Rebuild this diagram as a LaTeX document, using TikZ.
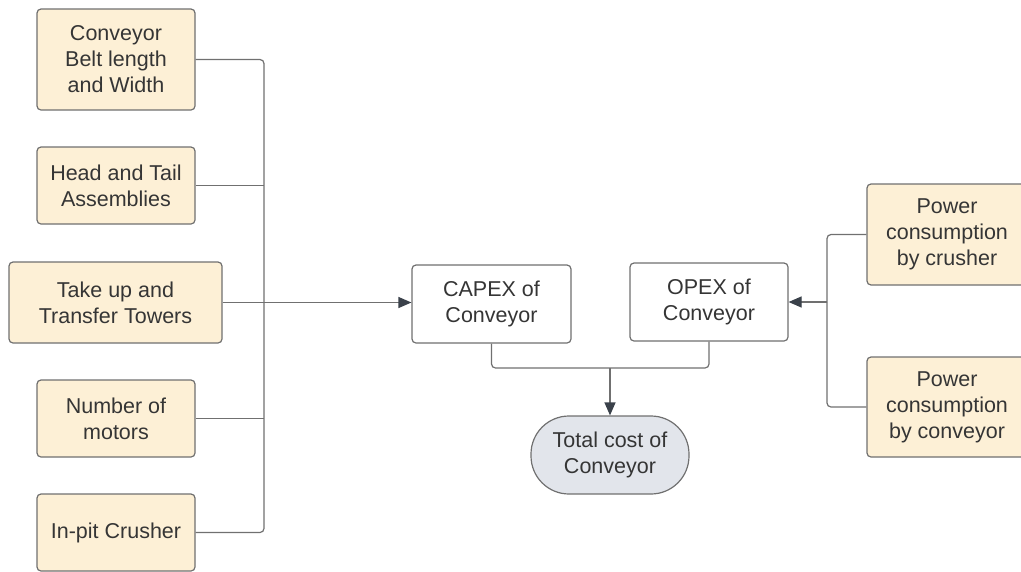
\documentclass[tikz,border=0pt]{standalone}
\usepackage{fontspec}
\setmainfont{Liberation Sans}
\usetikzlibrary{arrows.meta}
\definecolor{cream}{HTML}{FDF0D6}
\definecolor{edge}{HTML}{707070}
\definecolor{txt}{HTML}{353535}
\definecolor{pill}{HTML}{E2E5EB}
\definecolor{arr}{HTML}{3A414A}
\tikzset{
  inbox/.style={draw=edge, fill=cream, line width=1.2pt, rounded corners=4pt, inner sep=0pt,
    align=center, text=txt, font=\fontsize{21.5}{26}\selectfont},
  wbox/.style={inbox, fill=white},
  pillbox/.style={inbox, fill=pill, rounded corners=38pt},
  link/.style={draw=edge, line width=1.2pt, rounded corners=4pt},
  arrlink/.style={link, arrows={-{Triangle[length=13pt,width=11pt,color=arr]}}}
}
\begin{document}
\begin{tikzpicture}[x=1pt,y=-1pt]
\path[use as bounding box] (0,0) rectangle (1021,571);
\clip (0,0) rectangle (1021,571);
\node[inbox, minimum width=158pt, minimum height=101pt] (b1) at (116,59.5) {Conveyor\\Belt length\\and Width};
\node[inbox, minimum width=158pt, minimum height=77pt] (b2) at (116,185.5) {Head and Tail\\Assemblies};
\node[inbox, minimum width=213pt, minimum height=81pt] (b3) at (115.5,302.5) {Take up and\\Transfer Towers};
\node[inbox, minimum width=158pt, minimum height=77pt] (b4) at (116,418.5) {Number of\\motors};
\node[inbox, minimum width=158pt, minimum height=77pt] (b5) at (116,532.5) {In-pit Crusher};
\node[wbox, minimum width=159pt, minimum height=78pt] (capex) at (491.5,304) {CAPEX of\\Conveyor};
\node[wbox, minimum width=158pt, minimum height=78pt] (opex) at (709,302) {OPEX of\\Conveyor};
\node[pillbox, minimum width=158pt, minimum height=78pt] (total) at (610,455) {Total cost of\\Conveyor};
\node[inbox, minimum width=160pt, minimum height=101pt] (p1) at (947,234.5) {Power\\consumption\\by crusher};
\node[inbox, minimum width=160pt, minimum height=100pt] (p2) at (947,407) {Power\\consumption\\by conveyor};
\coordinate (busL) at (264,302);
\coordinate (busR) at (827,302);
\coordinate (join) at (610,368);
\draw[link] (b1.east) -| (busL);
\draw[link] (b5.east) -| (busL);
\draw[link] (b2.east) -- (b2.east -| busL);
\draw[link] (b4.east) -- (b4.east -| busL);
\draw[arrlink] (b3.east) -- (b3.east -| capex.west);
\draw[link] (capex.south) |- (join) -| (opex.south);
\draw[arrlink] (join) -- (total.north);
\draw[link] (p1.west) -| (busR);
\draw[link] (p2.west) -| (busR);
\draw[arrlink] (busR) -- (opex.east);
\end{tikzpicture}
\end{document}
